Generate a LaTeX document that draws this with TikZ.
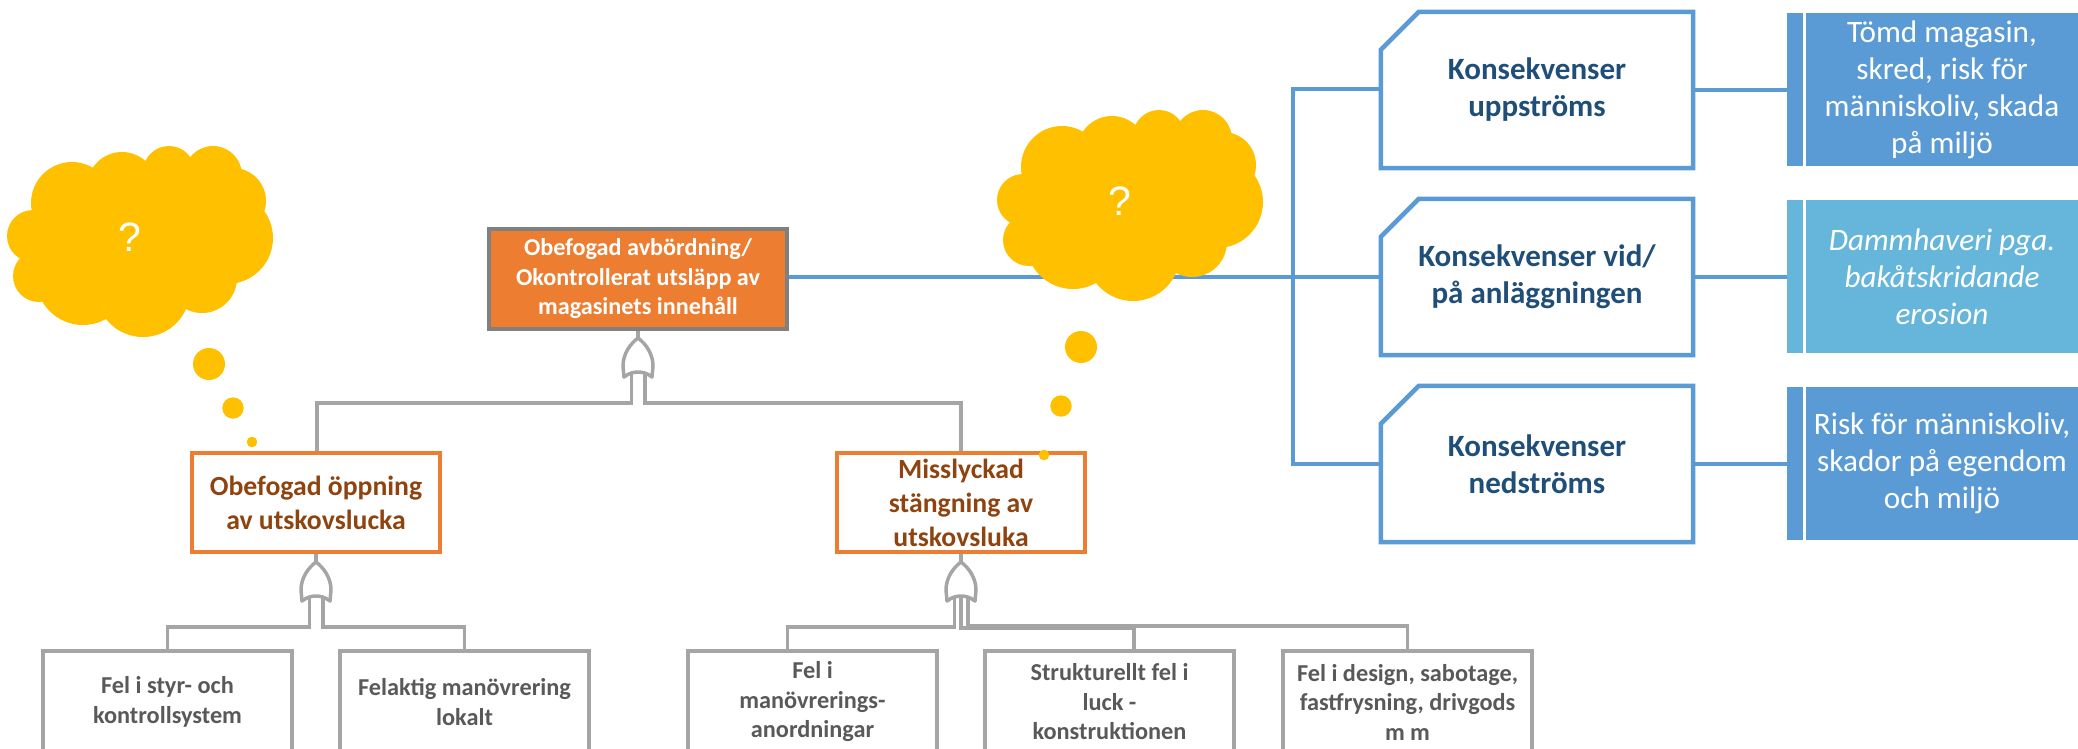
\documentclass[tikz,border=0pt]{standalone}
\usepackage{fontspec}
\setmainfont{Carlito}
\newfontfamily\qfont{Liberation Sans}
\definecolor{gline}{HTML}{A5A5A5}
\definecolor{gbord}{HTML}{808080}
\definecolor{gtext}{HTML}{595959}
\definecolor{orng}{HTML}{ED7D31}
\definecolor{brwn}{HTML}{8F4410}
\definecolor{amber}{HTML}{FFC000}
\definecolor{blu}{HTML}{5B9BD5}
\definecolor{ltblu}{HTML}{66B6DC}
\definecolor{dkblu}{HTML}{1F4E79}
\tikzset{
  gtline/.style={draw=gline,line width=3.5pt,line join=miter},
  bluline/.style={draw=blu,line width=4.5pt},
  topbox/.style={draw=gbord,fill=orng,line width=3.5pt,minimum width=298pt,minimum height=100pt,inner sep=0pt,align=center,text=white,font=\fontsize{24.2}{29.5}\selectfont\bfseries},
  evbox/.style={draw=orng,fill=white,line width=3.5pt,minimum width=248pt,minimum height=99pt,inner sep=0pt,align=center,text=brwn,font=\fontsize{27.7}{34}\selectfont\bfseries},
  basebox/.style={draw=gline,fill=white,line width=3.5pt,minimum width=249pt,minimum height=102pt,inner sep=0pt,align=center,text=gtext,font=\fontsize{24.3}{29.5}\selectfont\bfseries},
  conbox/.style={minimum width=312pt,minimum height=156pt,inner sep=0pt,align=center,text=dkblu,font=\fontsize{31}{37}\selectfont\bfseries},
  conedge/.style={draw=blu,line width=4.5pt,line join=miter},
  band/.style={fill=#1,minimum width=16.5pt,minimum height=153pt,inner sep=0pt},
  resbox/.style={fill=#1,minimum width=272pt,minimum height=153pt,inner sep=0pt,align=center,text=white,font=\fontsize{31.2}{37}\selectfont},
  qmark/.style={inner sep=0pt,text=white,font=\qfont\fontsize{41}{41}\selectfont},
  orgate/.pic={
    \draw[gtline,line join=round] (0,0) .. controls (-8,6) and (-15,16) .. (-15,28) -- (-14,39)
      .. controls (-9,35) and (-4,34) .. (0,34) .. controls (4,34) and (9,35) .. (14,39)
      -- (15,28) .. controls (15,16) and (8,6) .. (0,0) -- cycle;
    \coordinate (-out) at (0,0);
    \coordinate (-l) at (-6.5,34);
    \coordinate (-m) at (0,34);
    \coordinate (-r) at (7,34);
  },
  thinkcloud/.pic={
    \fill[amber] (33,236) circle[radius=26] (39,276) circle[radius=26]
      (83,278) circle[radius=47] (143,290) circle[radius=47]
      (202,278) circle[radius=35] (227,238) circle[radius=46]
      (233,201) circle[radius=33] (213,175) circle[radius=29]
      (169,172) circle[radius=26] (122,187) circle[radius=35]
      (72,203) circle[radius=41];
    \fill[amber] (33,236) -- (39,276) -- (83,278) -- (143,290) -- (202,278) -- (227,238)
      -- (233,201) -- (213,175) -- (169,172) -- (122,187) -- (72,203) -- cycle;
  },
}
\newcommand{\conoutline}[1]{\draw[conedge] ([yshift=-38pt]#1.north west) -- ([xshift=38pt]#1.north west) -- (#1.north east) -- (#1.south east) -- (#1.south west) -- cycle;}
\begin{document}
\begin{tikzpicture}[x=1pt,y=-1pt]
\useasboundingbox (0,0) rectangle (2078,748);
\clip (0,0) rectangle (2078,748);

% consequence boxes
\node[conbox] (k1) at (1537,90) {Konsekvenser\\uppströms};
\node[conbox] (k2) at (1537,277) {Konsekvenser vid/\\på anläggningen};
\node[conbox] (k3) at (1537,464) {Konsekvenser\\nedströms};
\conoutline{k1}
\conoutline{k2}
\conoutline{k3}

% result boxes
\node[band=blu] (b1) at (1795.2,89.5) {};
\node[resbox=blu] (r1) at (1942,89.5) {Tömd magasin,\\skred, risk för\\människoliv, skada\\på miljö};
\node[band=ltblu] (b2) at (1795.2,276.5) {};
\node[resbox=ltblu] (r2) at (1942,276.5) {\itshape Dammhaveri pga.\\\itshape bakåtskridande\\\itshape erosion};
\node[band=blu] (b3) at (1795.2,463.5) {};
\node[resbox=blu] (r3) at (1942,463.5) {Risk för människoliv,\\skador på egendom\\och miljö};

% fault tree boxes
\node[topbox] (top) at (638,279) {Obefogad avbördning/\\Okontrollerat utsläpp av\\magasinets innehåll};
\node[evbox] (e1) at (316,502.5) {Obefogad öppning\\av utskovslucka};
\node[evbox] (e2) at (961,502.5) {Misslyckad\\stängning av\\utskovsluka};
\node[basebox] (c1) at (167.5,702) {Fel i styr- och\\kontrollsystem};
\node[basebox] (c2) at (464.5,702) {Felaktig manövrering\\lokalt};
\node[basebox] (c3) at (812.5,702) {Fel i\\manövrerings-\\anordningar};
\node[basebox] (c4) at (1109.5,702) {Strukturellt fel i\\luck -\\konstruktionen};
\node[basebox] (c5) at (1407.5,702) {Fel i design, sabotage,\\fastfrysning, drivgods\\m m};

% blue connectors
\coordinate (spine) at (1293,0);
\draw[bluline] (top.east |- k2.west) -- (k2.west);
\draw[bluline] ([yshift=1pt]k1.west) -- ([yshift=1pt]spine |- k1.west) -- (spine |- k3.west) -- (k3.west);
\draw[bluline] (k1.east) -- (k1.east -| b1.west);
\draw[bluline] (k2.east) -- (k2.east -| b2.west);
\draw[bluline] (k3.east) -- (k3.east -| b3.west);

% gates
\pic (g1) at (638,338) {orgate};
\pic (g2) at (316,562) {orgate};
\pic (g3) at (961,562) {orgate};
\coordinate (busa) at (0,403);
\coordinate (busb) at (0,627);

\draw[gtline] (top.south) -- (g1-out);
\draw[gtline] (e1.south) -- (g2-out);
\draw[gtline] (e2.south) -- (g3-out);

\draw[gtline] (g1-l) -- (g1-l |- busa) -- ([xshift=1pt]e1.north |- busa) -- ([xshift=1pt]e1.north);
\draw[gtline] (g1-r) -- (g1-r |- busa) -- (e2.north |- busa) -- (e2.north);

\draw[gtline] (g2-l) -- (g2-l |- busb) -- (c1.north |- busb) -- (c1.north);
\draw[gtline] (g2-r) -- (g2-r |- busb) -- (c2.north |- busb) -- (c2.north);

\draw[gtline] (g3-l) -- (g3-l |- busb) -- ([xshift=-25pt]c3.north |- busb) -- ([xshift=-25pt]c3.north);
\draw[gtline] (g3-m) -- ([yshift=-0.8pt]g3-m |- busb) -- ([yshift=-0.8pt,xshift=24.5pt]c4.north |- busb) -- ([xshift=24.5pt]c4.north);
\draw[gtline] (g3-r) -- ([yshift=0.8pt]g3-r |- busb) -- ([yshift=0.8pt]c5.north |- busb) -- (c5.north);

% thought clouds
\pic at (0,0) {thinkcloud};
\node[qmark] (q1) at (130,237) {?};
\fill[amber] (209,364) circle[radius=16] (233,408) circle[radius=10.7] (252,442) circle[radius=5.3];
\pic at (990,-36) {thinkcloud};
\node[qmark] (q2) at (1120,201) {?};
\fill[amber] (1081,347) circle[radius=16] (1061,406) circle[radius=10.7] (1044,455) circle[radius=5.3];
\end{tikzpicture}
\end{document}
